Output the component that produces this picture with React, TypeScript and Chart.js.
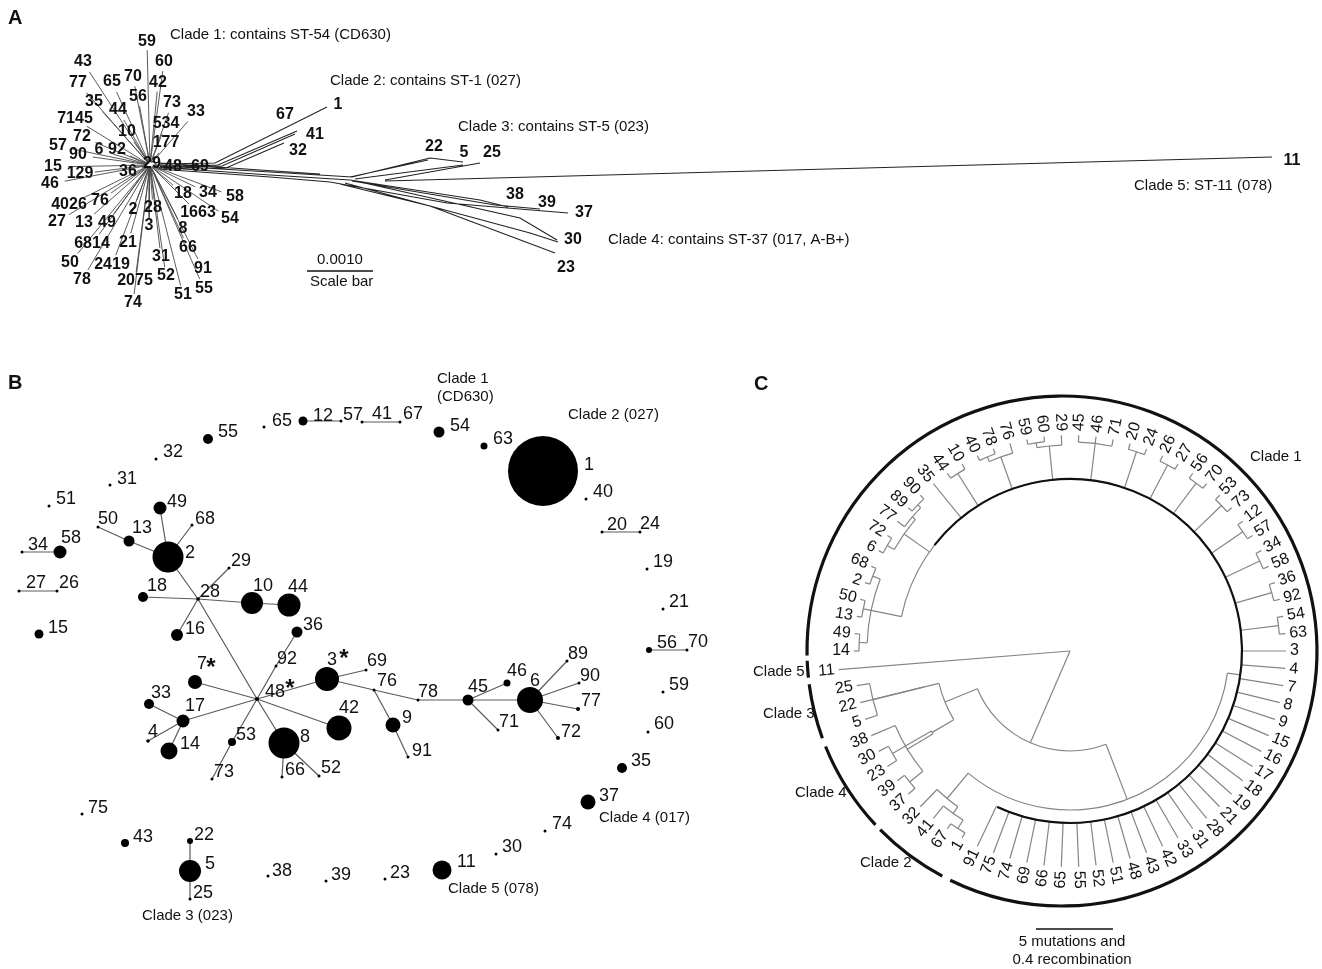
import React, { useEffect, useRef } from "react";
import { Chart, registerables } from "chart.js";

Chart.register(...registerables);

const W = 1322;
const H = 969;
const FONT = '"Liberation Sans", Arial, Helvetica, sans-serif';

// ---------------- Panel A : split network ----------------
const aHub: [number, number] = [150, 165];
const aCoreLabels: [string, number, number][] = [
  ["59", 147, 42], ["43", 83, 62], ["60", 164, 62], ["77", 78, 83], ["65", 112, 82], ["70", 133, 77],
  ["42", 158, 83], ["56", 138, 97], ["35", 94, 102], ["44", 118, 110], ["73", 172, 103], ["33", 196, 112],
  ["7145", 75, 119], ["534", 166, 124], ["10", 127, 132], ["177", 166, 143], ["72", 82, 137], ["57", 58, 146],
  ["90", 78, 155], ["6", 99, 150], ["92", 117, 150], ["29", 152, 164], ["36", 128, 172], ["48", 173, 167],
  ["69", 200, 167], ["15", 53, 167], ["129", 80, 174], ["46", 50, 184], ["18", 183, 194], ["34", 208, 193],
  ["58", 235, 197], ["4026", 69, 205], ["76", 100, 201], ["2", 133, 210], ["28", 153, 208], ["1663", 198, 213],
  ["54", 230, 219], ["27", 57, 222], ["13", 84, 223], ["49", 107, 223], ["3", 149, 226], ["8", 183, 229],
  ["6814", 92, 244], ["21", 128, 243], ["66", 188, 248], ["50", 70, 263], ["2419", 112, 265], ["31", 161, 257],
  ["91", 203, 269], ["78", 82, 280], ["2075", 135, 281], ["52", 166, 276], ["51", 183, 295], ["55", 204, 289],
  ["74", 133, 303],
];
const aTipLabels: [string, number, number][] = [
  ["1", 338, 105], ["67", 285, 115], ["41", 315, 135], ["32", 298, 151], ["22", 434, 147], ["5", 464, 153],
  ["25", 492, 153], ["38", 515, 195], ["39", 547, 203], ["37", 584, 213], ["30", 573, 240], ["23", 566, 268],
  ["11", 1292, 161],
];
const aBranches: [number, number][][] = [
  [[160, 164], [215, 163], [327, 107]],
  [[160, 166], [218, 165], [297, 131]],
  [[160, 167], [222, 166], [295, 134]],
  [[160, 168], [226, 168], [284, 143]],
  [[155, 165], [270, 172], [352, 177]],
  [[155, 167], [270, 175], [350, 180]],
  [[158, 169], [270, 177], [330, 182]],
  [[160, 163], [260, 170], [320, 174]],
  [[350, 177], [428, 160]],
  [[352, 177], [430, 158], [463, 162]],
  [[355, 179], [463, 165]],
  [[385, 180], [480, 163]],
  [[385, 181], [1272, 157]],
  [[330, 182], [447, 203], [568, 213]],
  [[350, 180], [480, 200], [508, 207]],
  [[352, 181], [495, 205], [540, 209]],
  [[345, 183], [530, 233], [558, 242]],
  [[340, 184], [430, 206], [555, 253]],
  [[360, 182], [520, 218], [557, 240]],
];
const aScaleBar: [number, number][] = [[307, 271], [373, 271]];
const aTexts: [string, number, number][] = [
  ["Clade 1: contains ST-54 (CD630)", 170, 35],
  ["Clade 2: contains ST-1 (027)", 330, 81],
  ["Clade 3: contains ST-5 (023)", 458, 127],
  ["Clade 4: contains ST-37 (017, A-B+)", 608, 240],
  ["Clade 5: ST-11 (078)", 1134, 186],
  ["0.0010", 317, 260],
  ["Scale bar", 310, 282],
];

// ---------------- Panel B : minimum spanning tree ----------------
// id, x, y, size (node radius, proportional to isolates)
const bNodes: [string, number, number, number][] = [
  ["65", 264, 427, 1.5], ["12", 303, 421, 4.5], ["57", 341, 421, 1.5], ["41", 362, 422, 1.5], ["67", 400, 422, 1.5],
  ["55", 208, 439, 5], ["32", 156, 459, 1.5], ["31", 110, 485, 1.5], ["51", 49, 506, 1.5], ["49", 160, 508, 6.5],
  ["50", 98, 527, 1.5], ["13", 129, 541, 5.5], ["68", 192, 525, 1.5], ["2", 168, 557, 15.5], ["34", 22, 552, 1.5],
  ["58", 60, 552, 6.5], ["27", 19, 591, 1.5], ["26", 57, 591, 1.5], ["29", 229, 568, 1.5], ["18", 143, 597, 5],
  ["28", 198, 599, 1.8], ["10", 252, 603, 11], ["44", 289, 605, 11.5], ["15", 39, 634, 4.5], ["16", 177, 635, 6],
  ["36", 297, 632, 5.5], ["92", 276, 666, 1.5], ["3", 327, 679, 12], ["69", 366, 670, 1.5], ["7", 195, 682, 7],
  ["76", 374, 690, 1.5], ["78", 418, 700, 1.5], ["45", 468, 700, 5.5], ["46", 507, 683, 3.5], ["6", 530, 700, 13],
  ["89", 567, 661, 1.5], ["90", 579, 683, 1.5], ["77", 578, 709, 2], ["72", 558, 738, 2], ["71", 498, 730, 1.5],
  ["48", 257, 699, 2], ["33", 149, 704, 5], ["17", 183, 721, 6.5], ["42", 339, 728, 12.5], ["9", 393, 725, 7.5],
  ["4", 148, 741, 1.8], ["14", 169, 751, 8.5], ["53", 232, 742, 4], ["8", 284, 743, 15.5], ["91", 408, 757, 1.5],
  ["73", 212, 779, 1.5], ["66", 282, 777, 1.5], ["52", 319, 776, 1.5], ["54", 439, 432, 5.5], ["63", 484, 446, 3.5],
  ["1", 543, 471, 35], ["40", 586, 499, 1.5], ["20", 602, 532, 1.5], ["24", 640, 532, 1.5], ["19", 647, 569, 1.5],
  ["21", 663, 609, 1.5], ["56", 649, 650, 3], ["70", 687, 650, 1.5], ["59", 663, 692, 1.5], ["60", 648, 732, 1.5],
  ["35", 622, 768, 5], ["37", 588, 802, 7.5], ["74", 545, 831, 1.5], ["30", 496, 854, 1.5], ["11", 442, 870, 9.5],
  ["23", 385, 879, 1.5], ["39", 326, 881, 1.5], ["38", 268, 876, 1.5], ["5", 190, 871, 11], ["22", 190, 841, 3],
  ["25", 190, 899, 1.5], ["43", 125, 843, 4], ["75", 82, 814, 1.5],
];
const bEdges: [string, string][] = [
  ["12", "57"], ["41", "67"], ["34", "58"], ["27", "26"], ["20", "24"], ["56", "70"], ["22", "5"], ["5", "25"],
  ["50", "13"], ["13", "2"], ["49", "2"], ["68", "2"], ["2", "28"], ["28", "18"], ["28", "29"], ["28", "10"],
  ["10", "44"], ["28", "16"], ["28", "48"], ["48", "92"], ["92", "36"], ["48", "7"], ["48", "17"], ["17", "33"],
  ["17", "4"], ["17", "14"], ["48", "53"], ["53", "73"], ["48", "8"], ["8", "66"], ["8", "52"], ["48", "42"],
  ["48", "3"], ["3", "69"], ["3", "76"], ["76", "9"], ["9", "91"], ["76", "78"], ["78", "45"], ["45", "46"],
  ["45", "71"], ["45", "6"], ["6", "89"], ["6", "90"], ["6", "77"], ["6", "72"],
];
const bLabels: [string, number, number][] = [
  ["65", 272, 421], ["12", 313, 416], ["57", 343, 415], ["41", 372, 414], ["67", 403, 414],
  ["55", 218, 432], ["32", 163, 452], ["31", 117, 479], ["51", 56, 499], ["49", 167, 502],
  ["50", 98, 519], ["68", 195, 519], ["13", 132, 528], ["34", 28, 545], ["58", 61, 538], ["2", 185, 553],
  ["29", 231, 561], ["27", 26, 583], ["26", 59, 583], ["18", 147, 586], ["28", 200, 592], ["10", 253, 586],
  ["44", 288, 587], ["15", 48, 628], ["16", 185, 629], ["36", 303, 625],
  ["92", 277, 659], ["3", 327, 660], ["69", 367, 661], ["7", 197, 664], ["76", 377, 681], ["48", 265, 692],
  ["33", 151, 693], ["17", 185, 706], ["78", 418, 692], ["45", 468, 687], ["46", 507, 671], ["6", 530, 681],
  ["89", 568, 654], ["90", 580, 676], ["77", 581, 701], ["42", 339, 708], ["9", 402, 718], ["71", 499, 722],
  ["72", 561, 732], ["4", 148, 732], ["53", 236, 735], ["8", 300, 737], ["14", 180, 744], ["91", 412, 751],
  ["73", 214, 772], ["66", 285, 770], ["52", 321, 768],
  ["54", 450, 426], ["63", 493, 439], ["1", 584, 465], ["40", 593, 492], ["20", 607, 525], ["24", 640, 524],
  ["19", 653, 562], ["21", 669, 602], ["56", 657, 643], ["70", 688, 642], ["59", 669, 685], ["60", 654, 724],
  ["35", 631, 761], ["75", 88, 808], ["43", 133, 837], ["22", 194, 835], ["5", 205, 864], ["25", 193, 893],
  ["38", 272, 871], ["39", 331, 875], ["23", 390, 873], ["11", 457, 862], ["30", 502, 847], ["74", 552, 824],
  ["37", 599, 796],
];
const bStars: [string, number, number][] = [["*", 211, 662], ["*", 344, 653], ["*", 290, 683]];
const bTexts: [string, number, number][] = [
  ["Clade 1", 437, 379], ["(CD630)", 437, 397], ["Clade 2 (027)", 568, 415],
  ["Clade 3 (023)", 142, 916], ["Clade 5 (078)", 448, 889], ["Clade 4 (017)", 599, 818],
];

// ---------------- Panel C : circular dendrogram ----------------
const cCenter: [number, number] = [1070, 651];
const cOuterCenter: [number, number] = [1062, 651];
const cStartDeg = 180;
const cLeafR = 216;
const cLeafROverride: Record<string, number> = { "11": 232 };
const cLeafOrder: string[] = [
  "14", "49", "13", "50", "2", "68", "6", "72", "77", "89", "90", "35", "44", "10", "40", "78", "76", "59", "60",
  "29", "45", "46", "71", "20", "24", "26", "27", "56", "70", "53", "73", "12", "57", "34", "58", "36", "92", "54",
  "63", "3", "4", "7", "8", "9", "15", "16", "17", "18", "19", "21", "28", "31", "33", "42", "43", "48", "51", "52",
  "55", "65", "66", "69", "74", "75", "91", "1", "67", "41", "32", "37", "39", "23", "30", "38", "5", "22", "25", "11",
];
// node id, branch depth (radius), children
const cNodes: [string, number, string[]][] = [
  ["root", 0, ["A", "11"]],
  ["A", 100, ["A2", "A1"]],
  ["A1", 135, ["C4", "C3"]],
  ["C3", 150, ["22", "p5_25"]],
  ["p5_25", 203, ["5", "25"]],
  ["C4", 160, ["p23_30", "n38"]],
  ["p23_30", 205, ["23", "30"]],
  ["n38", 190, ["38", "p37_39"]],
  ["p37_39", 207, ["37", "39"]],
  ["A2", 159, ["clade1", "C2"]],
  ["C2", 192, ["32", "n41"]],
  ["n41", 200, ["41", "p1_67"]],
  ["p1_67", 210, ["1", "67"]],
  ["clade1", 172, [
    "g14", "g6", "35", "p10_44", "g40", "g59", "g45", "p20_24", "p26_27", "p56_70", "p53_73", "p12_57", "p34_58",
    "p36_92", "p54_63", "3", "4", "7", "8", "9", "15", "16", "17", "18", "19", "21", "28", "31", "33", "42", "43",
    "48", "51", "52", "55", "65", "66", "69", "74", "75", "91"]],
  ["g14", 203, ["p14_49", "p13_50", "p2_68"]],
  ["p14_49", 211, ["14", "49"]],
  ["p13_50", 211, ["13", "50"]],
  ["p2_68", 211, ["2", "68"]],
  ["g6", 203, ["p6_72", "n77"]],
  ["p6_72", 211, ["6", "72"]],
  ["n77", 207, ["77", "p89_90"]],
  ["p89_90", 211, ["89", "90"]],
  ["p10_44", 210, ["44", "10"]],
  ["g40", 206, ["p40_78", "76"]],
  ["p40_78", 211, ["40", "78"]],
  ["g59", 206, ["p59_60", "29"]],
  ["p59_60", 211, ["59", "60"]],
  ["g45", 209, ["45", "46", "71"]],
  ["p20_24", 210, ["20", "24"]],
  ["p26_27", 210, ["26", "27"]],
  ["p56_70", 210, ["56", "70"]],
  ["p53_73", 210, ["53", "73"]],
  ["p12_57", 210, ["12", "57"]],
  ["p34_58", 210, ["34", "58"]],
  ["p36_92", 210, ["36", "92"]],
  ["p54_63", 210, ["54", "63"]],
];
const cAngleOverride: Record<string, number> = { clade1: 368 };
const cInnerArc: [number, number, number] = [172, 218, 475];
const cOuterR = 255;
const cCladeArcs: [string, number, number][] = [
  ["Clade 1", 179, 476], ["Clade 2", 478, 495.5], ["Clade 4", 497, 518], ["Clade 3", 520, 532.5], ["Clade 5", 534, 537.8],
];
const cTexts: [string, number, number][] = [
  ["Clade 1", 1250, 457], ["Clade 5", 753, 672], ["Clade 3", 763, 714], ["Clade 4", 795, 793], ["Clade 2", 860, 863],
];
const cScaleBar: [number, number][] = [[1036, 929], [1113, 929]];
const cScaleTexts: [string, number, number][] = [["5 mutations and", 1072, 942], ["0.4 recombination", 1072, 960]];

const panelLetters: [string, number, number][] = [["A", 8, 18], ["B", 8, 383], ["C", 754, 384]];

// ---------------- helpers ----------------
const GAP = { x: NaN, y: NaN };

function hubSegments() {
  const out: { x: number; y: number }[] = [];
  aCoreLabels.forEach(([, x, y]) => {
    const dx = x - aHub[0];
    const dy = y - aHub[1];
    const d = Math.hypot(dx, dy);
    if (d < 14) return;
    const ux = dx / d;
    const uy = dy / d;
    const m = 8 + 7 * Math.abs(ux);
    out.push({ x: aHub[0] + ux * 3, y: aHub[1] + uy * 3 }, { x: x - ux * m, y: y - uy * m }, GAP);
  });
  return out;
}

function polySegments(lines: [number, number][][]) {
  const out: { x: number; y: number }[] = [];
  lines.forEach((l) => {
    l.forEach(([x, y]) => out.push({ x, y }));
    out.push(GAP);
  });
  return out;
}

function edgeSegments() {
  const pos = new Map(bNodes.map((n) => [n[0], n]));
  const out: { x: number; y: number }[] = [];
  bEdges.forEach(([a, b]) => {
    const p = pos.get(a)!;
    const q = pos.get(b)!;
    out.push({ x: p[1], y: p[2] }, { x: q[1], y: q[2] }, GAP);
  });
  return out;
}

const leafAngle = new Map<string, number>(
  cLeafOrder.map((id, i) => [id, cStartDeg + (i * 360) / cLeafOrder.length])
);
const cNodeMap = new Map(cNodes.map((n) => [n[0], n]));
function cRadius(id: string): number {
  const n = cNodeMap.get(id);
  if (n) return n[1];
  return cLeafROverride[id] ?? cLeafR;
}
function cAngle(id: string): number {
  if (leafAngle.has(id)) return leafAngle.get(id)!;
  if (cAngleOverride[id] !== undefined) return cAngleOverride[id];
  const ch = cNodeMap.get(id)![2].map(cAngle);
  return (Math.min(...ch) + Math.max(...ch)) / 2;
}

const rad = (d: number) => (d * Math.PI) / 180;

const drawPlugin = {
  id: "figureDraw",
  afterDatasetsDraw(chart: any) {
    const ctx: CanvasRenderingContext2D = chart.ctx;
    const xs = chart.scales.x;
    const ys = chart.scales.y;
    const px = (v: number) => xs.getPixelForValue(v);
    const py = (v: number) => ys.getPixelForValue(v);
    const k = Math.abs(px(1) - px(0));
    const cx = px(cCenter[0]);
    const cy = py(cCenter[1]);
    const P = (r: number, deg: number): [number, number] => [
      px(cCenter[0] + r * Math.cos(rad(deg))),
      py(cCenter[1] + r * Math.sin(rad(deg))),
    ];

    ctx.save();
    // ---- dendrogram
    ctx.strokeStyle = "#858585";
    ctx.lineWidth = 1.2;
    cNodes.forEach(([id, r, children]) => {
      const angs = children.map(cAngle);
      if (r > 0) {
        ctx.beginPath();
        ctx.arc(cx, cy, r * k, rad(Math.min(...angs)), rad(Math.max(...angs)));
        ctx.stroke();
      }
      children.forEach((c, i) => {
        const a = angs[i];
        const [x1, y1] = P(r, a);
        const [x2, y2] = P(cRadius(c), a);
        ctx.beginPath();
        ctx.moveTo(x1, y1);
        ctx.lineTo(x2, y2);
        ctx.stroke();
      });
    });
    // inner dark arc of clade 1
    ctx.strokeStyle = "#111";
    ctx.lineWidth = 2.2;
    ctx.beginPath();
    ctx.arc(cx, cy, cInnerArc[0] * k, rad(cInnerArc[1]), rad(cInnerArc[2]));
    ctx.stroke();
    // outer clade arcs
    const ocx = px(cOuterCenter[0]);
    const ocy = py(cOuterCenter[1]);
    ctx.lineWidth = 3.2;
    cCladeArcs.forEach(([, a1, a2]) => {
      ctx.beginPath();
      ctx.arc(ocx, ocy, cOuterR * k, rad(a1), rad(a2));
      ctx.stroke();
    });
    // leaf labels
    ctx.fillStyle = "#111";
    ctx.font = `16px ${FONT}`;
    ctx.textBaseline = "middle";
    cLeafOrder.forEach((id) => {
      const a = leafAngle.get(id)!;
      const [x, y] = P(cRadius(id) + 4, a);
      const n = ((a % 360) + 360) % 360;
      const flip = n > 90 && n < 270;
      ctx.save();
      ctx.translate(x, y);
      ctx.rotate(rad(flip ? n - 180 : n));
      ctx.textAlign = flip ? "right" : "left";
      ctx.fillText(id, 0, 0);
      ctx.restore();
    });

    // ---- scale bars
    ctx.strokeStyle = "#111";
    ctx.lineWidth = 1.5;
    [aScaleBar, cScaleBar].forEach((s) => {
      ctx.beginPath();
      ctx.moveTo(px(s[0][0]), py(s[0][1]));
      ctx.lineTo(px(s[1][0]), py(s[1][1]));
      ctx.stroke();
    });

    // ---- texts
    const texts = (items: [string, number, number][], font: string, align: CanvasTextAlign, dy = 0) => {
      ctx.font = font;
      ctx.textAlign = align;
      ctx.textBaseline = "middle";
      items.forEach(([t, x, y]) => ctx.fillText(t, px(x), py(y) + dy));
    };
    ctx.fillStyle = "#111";
    texts(aCoreLabels, `bold 16px ${FONT}`, "center");
    texts(aTipLabels, `bold 16px ${FONT}`, "center");
    texts(aTexts, `15px ${FONT}`, "left");
    texts(bLabels, `18px ${FONT}`, "left");
    texts(bStars, `bold 24px ${FONT}`, "center", 6);
    texts(bTexts, `15px ${FONT}`, "left");
    texts(cTexts, `15px ${FONT}`, "left");
    texts(cScaleTexts, `15px ${FONT}`, "center");
    texts(panelLetters, `bold 20px ${FONT}`, "left");
    ctx.restore();
  },
};

export default function App() {
  const ref = useRef<HTMLCanvasElement | null>(null);
  useEffect(() => {
    const canvas = ref.current;
    if (!canvas) return;
    const chart = new Chart(canvas, {
      type: "scatter",
      data: {
        datasets: [
          {
            label: "B nodes",
            data: bNodes.map((n) => ({ x: n[1], y: n[2] })),
            pointRadius: bNodes.map((n) => n[3]),
            pointHoverRadius: bNodes.map((n) => n[3]),
            pointBackgroundColor: "#000",
            pointBorderWidth: 0,
            showLine: false,
            order: 0,
            clip: false,
          } as any,
          {
            label: "B edges",
            data: edgeSegments(),
            showLine: true,
            spanGaps: false,
            borderColor: "#5a5a5a",
            borderWidth: 1.2,
            pointRadius: 0,
            order: 1,
            clip: false,
          } as any,
          {
            label: "A hub",
            data: hubSegments(),
            showLine: true,
            spanGaps: false,
            borderColor: "#4a4a4a",
            borderWidth: 0.9,
            pointRadius: 0,
            order: 2,
            clip: false,
          } as any,
          {
            label: "A branches",
            data: polySegments(aBranches),
            showLine: true,
            spanGaps: false,
            borderColor: "#222",
            borderWidth: 1.1,
            pointRadius: 0,
            order: 3,
            clip: false,
          } as any,
        ],
      },
      options: {
        animation: false,
        responsive: false,
        maintainAspectRatio: false,
        events: [],
        layout: { padding: 0, autoPadding: false },
        plugins: { legend: { display: false }, tooltip: { enabled: false }, title: { display: false } },
        scales: {
          x: { type: "linear", min: 0, max: W, display: false },
          y: { type: "linear", min: 0, max: H, reverse: true, display: false },
        },
      },
      plugins: [drawPlugin],
    });
    return () => chart.destroy();
  }, []);

  return (
    <div style={{ position: "absolute", left: 0, top: 0, width: W, height: H, background: "#fff" }}>
      <canvas ref={ref} width={W} height={H} style={{ display: "block", width: W, height: H }} />
    </div>
  );
}
